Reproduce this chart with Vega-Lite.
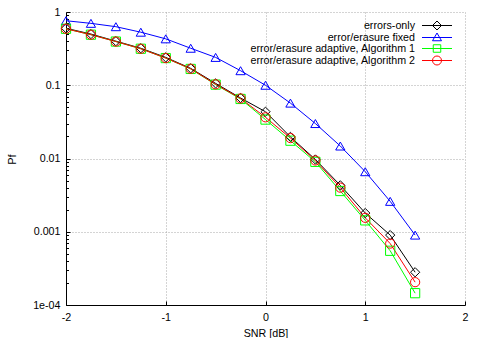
{
  "$schema": "https://vega.github.io/schema/vega-lite/v6.json",
  "width": 399,
  "height": 293,
  "autosize": "none",
  "padding": {"left": 66, "top": 12, "right": 18, "bottom": 33},
  "background": "white",
  "config": {
    "font": "Liberation Sans",
    "view": {"stroke": null},
    "axis": {"labelFont": "Liberation Sans", "titleFont": "Liberation Sans", "labelFontSize": 10.7, "titleFontSize": 10.7, "titleFontWeight": "normal", "labelColor": "#000", "titleColor": "#000", "domainColor": "#000", "tickColor": "#000", "gridColor": "#a8a8a8", "gridDash": [1, 2], "gridOpacity": 1}
  },
  "data": {"values": [
    {"snr": -2, "pf": 0.60, "series": "errors-only"},
    {"snr": -1.75, "pf": 0.50, "series": "errors-only"},
    {"snr": -1.5, "pf": 0.40, "series": "errors-only"},
    {"snr": -1.25, "pf": 0.32, "series": "errors-only"},
    {"snr": -1, "pf": 0.24, "series": "errors-only"},
    {"snr": -0.75, "pf": 0.17, "series": "errors-only"},
    {"snr": -0.5, "pf": 0.106, "series": "errors-only"},
    {"snr": -0.25, "pf": 0.067, "series": "errors-only"},
    {"snr": 0, "pf": 0.0435, "series": "errors-only"},
    {"snr": 0.25, "pf": 0.0197, "series": "errors-only"},
    {"snr": 0.5, "pf": 0.0097, "series": "errors-only"},
    {"snr": 0.75, "pf": 0.0043, "series": "errors-only"},
    {"snr": 1, "pf": 0.0018, "series": "errors-only"},
    {"snr": 1.25, "pf": 0.00090, "series": "errors-only"},
    {"snr": 1.5, "pf": 0.00028, "series": "errors-only"},
    {"snr": -2, "pf": 0.76, "series": "error/erasure fixed"},
    {"snr": -1.75, "pf": 0.70, "series": "error/erasure fixed"},
    {"snr": -1.5, "pf": 0.63, "series": "error/erasure fixed"},
    {"snr": -1.25, "pf": 0.53, "series": "error/erasure fixed"},
    {"snr": -1, "pf": 0.43, "series": "error/erasure fixed"},
    {"snr": -0.75, "pf": 0.32, "series": "error/erasure fixed"},
    {"snr": -0.5, "pf": 0.24, "series": "error/erasure fixed"},
    {"snr": -0.25, "pf": 0.158, "series": "error/erasure fixed"},
    {"snr": 0, "pf": 0.100, "series": "error/erasure fixed"},
    {"snr": 0.25, "pf": 0.057, "series": "error/erasure fixed"},
    {"snr": 0.5, "pf": 0.030, "series": "error/erasure fixed"},
    {"snr": 0.75, "pf": 0.0148, "series": "error/erasure fixed"},
    {"snr": 1, "pf": 0.0066, "series": "error/erasure fixed"},
    {"snr": 1.25, "pf": 0.0026, "series": "error/erasure fixed"},
    {"snr": 1.5, "pf": 0.00090, "series": "error/erasure fixed"},
    {"snr": -2, "pf": 0.59, "series": "error/erasure adaptive, Algorithm 1"},
    {"snr": -1.75, "pf": 0.49, "series": "error/erasure adaptive, Algorithm 1"},
    {"snr": -1.5, "pf": 0.395, "series": "error/erasure adaptive, Algorithm 1"},
    {"snr": -1.25, "pf": 0.315, "series": "error/erasure adaptive, Algorithm 1"},
    {"snr": -1, "pf": 0.235, "series": "error/erasure adaptive, Algorithm 1"},
    {"snr": -0.75, "pf": 0.167, "series": "error/erasure adaptive, Algorithm 1"},
    {"snr": -0.5, "pf": 0.102, "series": "error/erasure adaptive, Algorithm 1"},
    {"snr": -0.25, "pf": 0.065, "series": "error/erasure adaptive, Algorithm 1"},
    {"snr": 0, "pf": 0.034, "series": "error/erasure adaptive, Algorithm 1"},
    {"snr": 0.25, "pf": 0.0175, "series": "error/erasure adaptive, Algorithm 1"},
    {"snr": 0.5, "pf": 0.0090, "series": "error/erasure adaptive, Algorithm 1"},
    {"snr": 0.75, "pf": 0.0036, "series": "error/erasure adaptive, Algorithm 1"},
    {"snr": 1, "pf": 0.00143, "series": "error/erasure adaptive, Algorithm 1"},
    {"snr": 1.25, "pf": 0.00055, "series": "error/erasure adaptive, Algorithm 1"},
    {"snr": 1.5, "pf": 0.000145, "series": "error/erasure adaptive, Algorithm 1"},
    {"snr": -2, "pf": 0.59, "series": "error/erasure adaptive, Algorithm 2"},
    {"snr": -1.75, "pf": 0.49, "series": "error/erasure adaptive, Algorithm 2"},
    {"snr": -1.5, "pf": 0.395, "series": "error/erasure adaptive, Algorithm 2"},
    {"snr": -1.25, "pf": 0.315, "series": "error/erasure adaptive, Algorithm 2"},
    {"snr": -1, "pf": 0.235, "series": "error/erasure adaptive, Algorithm 2"},
    {"snr": -0.75, "pf": 0.168, "series": "error/erasure adaptive, Algorithm 2"},
    {"snr": -0.5, "pf": 0.103, "series": "error/erasure adaptive, Algorithm 2"},
    {"snr": -0.25, "pf": 0.066, "series": "error/erasure adaptive, Algorithm 2"},
    {"snr": 0, "pf": 0.0365, "series": "error/erasure adaptive, Algorithm 2"},
    {"snr": 0.25, "pf": 0.019, "series": "error/erasure adaptive, Algorithm 2"},
    {"snr": 0.5, "pf": 0.0094, "series": "error/erasure adaptive, Algorithm 2"},
    {"snr": 0.75, "pf": 0.0040, "series": "error/erasure adaptive, Algorithm 2"},
    {"snr": 1, "pf": 0.00155, "series": "error/erasure adaptive, Algorithm 2"},
    {"snr": 1.25, "pf": 0.00069, "series": "error/erasure adaptive, Algorithm 2"},
    {"snr": 1.5, "pf": 0.000205, "series": "error/erasure adaptive, Algorithm 2"}
  ]},
  "encoding": {
    "x": {"field": "snr", "type": "quantitative", "scale": {"domain": [-2, 2], "nice": false, "zero": false},
      "axis": {"title": "SNR [dB]", "values": [-2, -1, 0, 1, 2], "grid": true, "tickSize": -4, "labelPadding": 11, "titlePadding": 7, "labelFlush": false, "labelExpr": "replace(format(datum.value, 'd'), '\u2212', '-')"}},
    "y": {"field": "pf", "type": "quantitative", "scale": {"type": "log", "domain": [0.0001, 1], "nice": false},
      "axis": {"title": "Pf", "values": [0.0001, 0.001, 0.01, 0.1, 1], "grid": true, "tickSize": -4, "labelPadding": 10, "labelFlush": false, "labelExpr": "datum.value < 0.0005 ? '1e-04' : datum.value < 0.005 ? '0.001' : datum.value < 0.05 ? '0.01' : datum.value < 0.5 ? '0.1' : '1'", "titleX": -54, "titleY": 147, "titleAngle": -90, "titleAlign": "center", "titleBaseline": "middle"}},
    "color": {"field": "series", "type": "nominal",
      "scale": {"domain": ["errors-only", "error/erasure fixed", "error/erasure adaptive, Algorithm 1", "error/erasure adaptive, Algorithm 2"], "range": ["#000000", "#0000ff", "#00ff00", "#ff0000"]},
      "legend": {"title": null, "orient": "none", "legendX": 365.5, "legendY": 8, "labelAlign": "right", "labelOffset": -27.5, "labelFont": "Liberation Sans", "labelFontSize": 10.7, "labelColor": "#000", "symbolStrokeWidth": 1, "symbolSize": 100, "rowPadding": -1.5, "labelLimit": 400,
        "encode": {"symbols": {"update": {"size": {"value": 100}, "fill": {"value": "transparent"}, "strokeWidth": {"value": 1}, "shape": {"signal": "datum.value === 'errors-only' ? 'M-3,0H3M0,-0.9L0.9,0L0,0.9L-0.9,0Z' : datum.value === 'error/erasure fixed' ? 'M-3,0H3M0,-0.9L0.9,0.65L-0.9,0.65Z' : datum.value === 'error/erasure adaptive, Algorithm 1' ? 'M-3,0H3M-0.75,-0.75H0.75V0.75H-0.75Z' : 'M-3,0H3M0.9,0A0.9,0.9 0 1,1 -0.9,0A0.9,0.9 0 1,1 0.9,0Z'"}}}}}
    }
  },
  "resolve": {"axis": {"y": "independent"}},
  "layer": [
    {"mark": {"type": "line", "strokeWidth": 1}},
    {"mark": {"type": "point", "filled": false, "strokeWidth": 1, "size": 85, "opacity": 1,
      "shape": {"expr": "datum.series === 'errors-only' ? 'diamond' : datum.series === 'error/erasure fixed' ? 'triangle-up' : datum.series === 'error/erasure adaptive, Algorithm 1' ? 'square' : 'circle'"}},
     "encoding": {"y": {"field": "pf", "type": "quantitative", "scale": {"type": "log", "domain": [0.0001, 1], "nice": false},
       "axis": {"orient": "left", "title": null, "labels": false, "grid": false, "domain": false, "tickSize": -2.5,
         "values": [0.0002, 0.0003, 0.0004, 0.0005, 0.0006, 0.0007, 0.0008, 0.0009, 0.002, 0.003, 0.004, 0.005, 0.006, 0.007, 0.008, 0.009, 0.02, 0.03, 0.04, 0.05, 0.06, 0.07, 0.08, 0.09, 0.2, 0.3, 0.4, 0.5, 0.6, 0.7, 0.8, 0.9]}}}}
  ]
}
